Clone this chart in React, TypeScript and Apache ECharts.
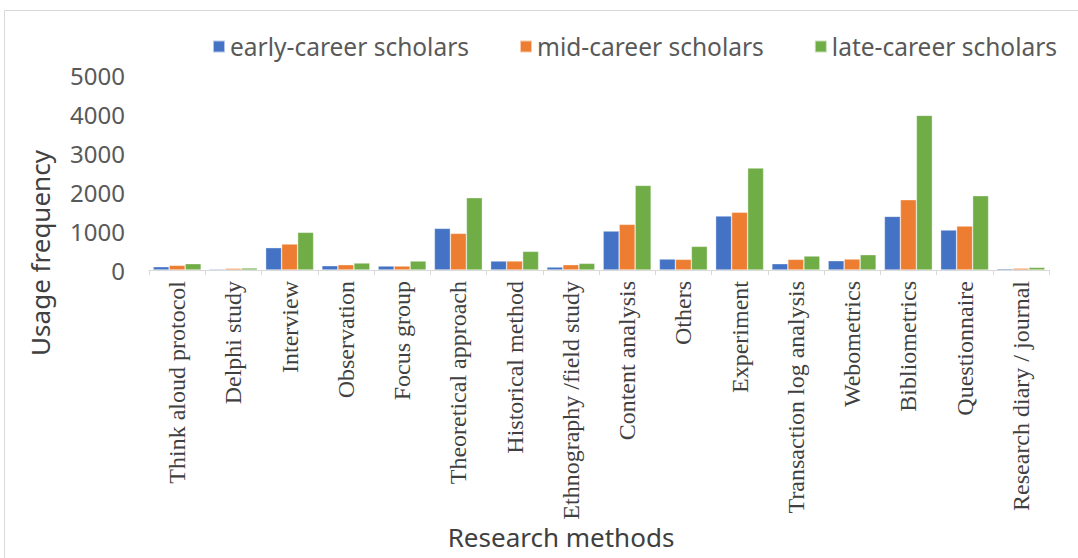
import React, { useEffect, useRef } from "react";
import * as echarts from "echarts";

const categories = [
  "Think aloud protocol",
  "Delphi study",
  "Interview",
  "Observation",
  "Focus group",
  "Theoretical approach",
  "Historical method",
  "Ethnography /field study",
  "Content analysis",
  "Others",
  "Experiment",
  "Transaction log analysis",
  "Webometrics",
  "Bibliometrics",
  "Questionnaire",
  "Research diary / journal",
];

const earlyCareer = [85, 26, 573, 111, 103, 1068, 231, 77, 1000, 282, 1385, 162, 239, 1376, 1026, 34];
const midCareer = [120, 43, 667, 137, 103, 940, 231, 137, 1171, 274, 1479, 274, 282, 1803, 1128, 43];
const lateCareer = [162, 51, 966, 180, 231, 1855, 479, 171, 2171, 607, 2615, 359, 393, 3966, 1906, 68];

const seriesNames = ["early-career scholars", "mid-career scholars", "late-career scholars"];
const colors = ["#4472C4", "#ED7D31", "#70AD47"];
const yTicks = { min: 0, max: 5000, interval: 1000 };

export default function App() {
  const ref = useRef<HTMLDivElement>(null);
  useEffect(() => {
    document.body.style.margin = "0";
    const chart = echarts.init(ref.current!, undefined, { renderer: "svg" });
    const values = [earlyCareer, midCareer, lateCareer];
    chart.setOption({
      animation: false,
      backgroundColor: "#ffffff",
      legend: {
        left: 207,
        top: 29,
        itemWidth: 12,
        itemHeight: 12,
        itemGap: 50,
        icon: "rect",
        textStyle: { fontSize: 24.5, color: "#595959", fontFamily: "Noto Sans" },
        data: seriesNames,
      },
      grid: { left: 149, right: 29, top: 75, height: 195, containLabel: false },
      xAxis: {
        type: "category",
        data: categories,
        axisLine: { lineStyle: { color: "#d9d9d9", width: 1 } },
        axisTick: { show: true, alignWithLabel: false, length: 5, lineStyle: { color: "#d9d9d9" } },
        axisLabel: {
          rotate: 90,
          interval: 0,
          margin: 11,
          fontSize: 24,
          color: "#404040",
          fontFamily: "Liberation Serif",
        },
      },
      yAxis: {
        type: "value",
        min: yTicks.min,
        max: yTicks.max,
        interval: yTicks.interval,
        axisLine: { show: false },
        axisTick: { show: false },
        splitLine: { show: false },
        axisLabel: {
          fontSize: 24,
          color: "#595959",
          margin: 24,
          fontFamily: "Noto Sans",
          formatter: (v: number) => String(v),
        },
      },
      series: values.map((v, i) => ({
        name: seriesNames[i],
        type: "bar",
        data: v,
        barWidth: 16,
        barGap: "0%",
        itemStyle: { color: colors[i], borderColor: "rgba(255,255,255,0.6)", borderWidth: 0.6 },
      })),
      graphic: [
        {
          type: "rect",
          shape: { x: 4.5, y: 10.5, width: 1080, height: 560 },
          style: { fill: "none", stroke: "#d9d9d9", lineWidth: 1 },
          silent: true,
        },
        {
          type: "text",
          x: 40,
          y: 253,
          rotation: Math.PI / 2,
          style: {
            text: "Usage frequency",
            fontSize: 26,
            fill: "#404040",
            fontFamily: "Noto Sans",
            align: "center",
            verticalAlign: "middle",
          },
        },
        {
          type: "text",
          x: 561,
          y: 537,
          style: {
            text: "Research methods",
            fontSize: 26,
            fill: "#404040",
            fontFamily: "Noto Sans",
            align: "center",
            verticalAlign: "middle",
          },
        },
      ],
    });
    return () => chart.dispose();
  }, []);
  return <div ref={ref} style={{ width: 1078, height: 558 }} />;
}
